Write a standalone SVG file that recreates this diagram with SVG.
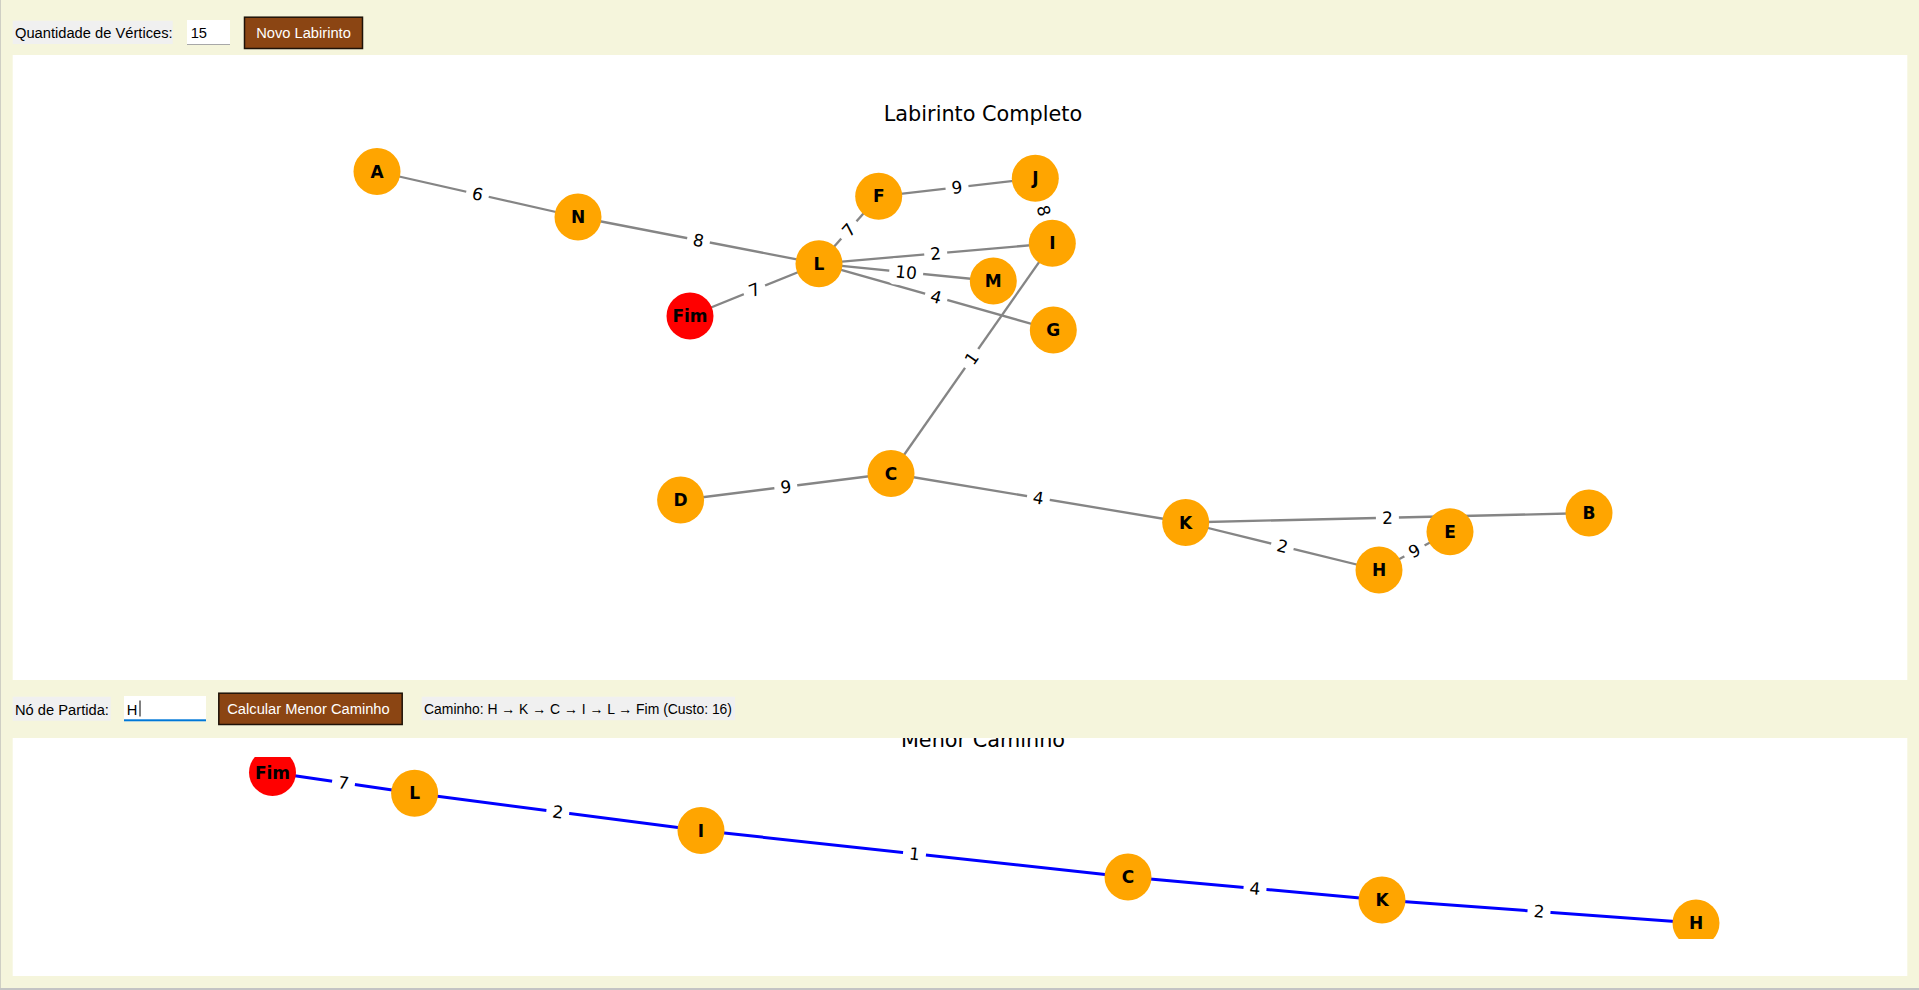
<svg xmlns="http://www.w3.org/2000/svg" width="1919" height="990" viewBox="0 0 1919 990">
<style>
.ui{font-family:"Liberation Sans",Arial,sans-serif;font-size:14.7px;fill:#000}
.btn{fill:#8b4513;stroke:#1e1208;stroke-width:1.5}
.btnt{font-family:"Liberation Sans",Arial,sans-serif;font-size:14.7px;fill:#fff;text-anchor:middle}
.lbl{fill:#f0f0f0}
.ent{fill:#fff}
.ttl{font-family:"DejaVu Sans",sans-serif;font-size:20.8px;fill:#000;text-anchor:middle}
.e{stroke:#858585;stroke-width:2.3;fill:none}
.p{stroke:#0000ff;stroke-width:3;fill:none}
.nd{fill:#ffa500}
.fim{fill:#ff0000}
.nt{font-family:"DejaVu Sans",sans-serif;font-weight:bold;font-size:17px;fill:#000;text-anchor:middle}
.el{font-family:"DejaVu Sans",sans-serif;font-size:17px;fill:#000;text-anchor:middle}
.eb{fill:#fff}
</style>
<defs>
<clipPath id="panel2"><rect x="12.7" y="738" width="1894.6" height="238"/></clipPath>
<clipPath id="ax2"><rect x="12.7" y="757" width="1894.6" height="182"/></clipPath>
</defs>
<rect x="0" y="0" width="1919" height="990" fill="#f5f5dc"/>
<rect x="0" y="0" width="1" height="990" fill="#cfcfc4"/>
<rect x="0" y="988" width="1919" height="2" fill="#c4c4c4"/>

<!-- toolbar 1 -->
<g id="toolbar1">
<rect class="lbl" x="12.7" y="20.7" width="160" height="23.3"/>
<text class="ui" x="15" y="38.3">Quantidade de Vértices:</text>
<rect class="ent" x="187" y="20" width="43" height="25"/>
<rect x="187" y="44" width="43" height="1" fill="#a8a8a8"/>
<text class="ui" x="190.7" y="38.3">15</text>
<rect class="btn" x="244.5" y="17.2" width="118" height="31.3"/>
<text class="btnt" x="303.5" y="38">Novo Labirinto</text>
</g>

<!-- panel 1 -->
<rect x="12.7" y="55" width="1894.6" height="625" fill="#fff"/>
<text class="ttl" x="983" y="120.5">Labirinto Completo</text>

<g id="connectors1">
<line class="e" x1="377" y1="171.5" x2="578" y2="217"/>
<line class="e" x1="578" y1="217" x2="819" y2="263.7"/>
<line class="e" x1="819" y1="263.7" x2="878.7" y2="196.3"/>
<line class="e" x1="878.7" y1="196.3" x2="1035.3" y2="178.3"/>
<line class="e" x1="1035.3" y1="178.3" x2="1052.3" y2="243.3"/>
<line class="e" x1="819" y1="263.7" x2="1052.3" y2="243.3"/>
<line class="e" x1="819" y1="263.7" x2="993.3" y2="281"/>
<line class="e" x1="819" y1="263.7" x2="1053.3" y2="330"/>
<line class="e" x1="819" y1="263.7" x2="690" y2="316"/>
<line class="e" x1="1052.3" y1="243.3" x2="891" y2="473.5"/>
<line class="e" x1="891" y1="473.5" x2="680.6" y2="500"/>
<line class="e" x1="891" y1="473.5" x2="1185.7" y2="522.5"/>
<line class="e" x1="1185.7" y1="522.5" x2="1589" y2="513"/>
<line class="e" x1="1185.7" y1="522.5" x2="1379" y2="570"/>
<line class="e" x1="1379" y1="570" x2="1450" y2="531.7"/>
<g id="edge-labels1">
<g transform="translate(477.5,194.2) rotate(12.9)"><rect class="eb" x="-11.5" y="-13" width="23" height="26" rx="5"/><text class="el" y="6">6</text></g>
<g transform="translate(698.5,240.4) rotate(11)"><rect class="eb" x="-11.5" y="-13" width="23" height="26" rx="5"/><text class="el" y="6">8</text></g>
<g transform="translate(848.9,230) rotate(-48.5)"><rect class="eb" x="-11.5" y="-13" width="23" height="26" rx="5"/><text class="el" y="6">7</text></g>
<g transform="translate(957,187.3) rotate(-6.6)"><rect class="eb" x="-11.5" y="-13" width="23" height="26" rx="5"/><text class="el" y="6">9</text></g>
<g transform="translate(1043.8,210.8) rotate(75.3)"><rect class="eb" x="-11.5" y="-13" width="23" height="26" rx="5"/><text class="el" y="6">8</text></g>
<g transform="translate(935.7,253.5) rotate(-5)"><rect class="eb" x="-11.5" y="-13" width="23" height="26" rx="5"/><text class="el" y="6">2</text></g>
<g transform="translate(906.2,272.4) rotate(5.7)"><rect class="eb" x="-17" y="-13" width="34" height="26" rx="5"/><text class="el" y="6">10</text></g>
<g transform="translate(936.2,296.9) rotate(15.8)"><rect class="eb" x="-11.5" y="-13" width="23" height="26" rx="5"/><text class="el" y="6">4</text></g>
<g transform="translate(754.5,289.9) rotate(-22.1)"><rect class="eb" x="-11.5" y="-13" width="23" height="26" rx="5"/><text class="el" y="6">7</text></g>
<g transform="translate(971.7,358.4) rotate(-55)"><rect class="eb" x="-11.5" y="-13" width="23" height="26" rx="5"/><text class="el" y="6">1</text></g>
<g transform="translate(785.8,486.8) rotate(-7.2)"><rect class="eb" x="-11.5" y="-13" width="23" height="26" rx="5"/><text class="el" y="6">9</text></g>
<g transform="translate(1038.4,498) rotate(9.4)"><rect class="eb" x="-11.5" y="-13" width="23" height="26" rx="5"/><text class="el" y="6">4</text></g>
<g transform="translate(1387.4,517.8) rotate(-1.35)"><rect class="eb" x="-11.5" y="-13" width="23" height="26" rx="5"/><text class="el" y="6">2</text></g>
<g transform="translate(1282.4,546.3) rotate(13.8)"><rect class="eb" x="-11.5" y="-13" width="23" height="26" rx="5"/><text class="el" y="6">2</text></g>
<g transform="translate(1414.5,550.9) rotate(-28.3)"><rect class="eb" x="-11.5" y="-13" width="23" height="26" rx="5"/><text class="el" y="6">9</text></g>
</g>
</g>

<g id="nodes1">
<g id="n1-A"><circle class="nd" cx="377" cy="171.5" r="23.5"/><text class="nt" x="377" y="177.5">A</text></g>
<g id="n1-N"><circle class="nd" cx="578" cy="217" r="23.5"/><text class="nt" x="578" y="223">N</text></g>
<g id="n1-F"><circle class="nd" cx="878.7" cy="196.3" r="23.5"/><text class="nt" x="878.7" y="202.3">F</text></g>
<g id="n1-J"><circle class="nd" cx="1035.3" cy="178.3" r="23.5"/><text class="nt" x="1035.3" y="184.3">J</text></g>
<g id="n1-I"><circle class="nd" cx="1052.3" cy="243.3" r="23.5"/><text class="nt" x="1052.3" y="249.3">I</text></g>
<g id="n1-L"><circle class="nd" cx="819" cy="263.7" r="23.5"/><text class="nt" x="819" y="269.7">L</text></g>
<g id="n1-M"><circle class="nd" cx="993.3" cy="281" r="23.5"/><text class="nt" x="993.3" y="287">M</text></g>
<g id="n1-Fim"><circle class="fim" cx="690" cy="316" r="23.5"/><text class="nt" x="690" y="322">Fim</text></g>
<g id="n1-G"><circle class="nd" cx="1053.3" cy="330" r="23.5"/><text class="nt" x="1053.3" y="336">G</text></g>
<g id="n1-C"><circle class="nd" cx="891" cy="473.5" r="23.5"/><text class="nt" x="891" y="479.5">C</text></g>
<g id="n1-D"><circle class="nd" cx="680.6" cy="500" r="23.5"/><text class="nt" x="680.6" y="506">D</text></g>
<g id="n1-K"><circle class="nd" cx="1185.7" cy="522.5" r="23.5"/><text class="nt" x="1185.7" y="528.5">K</text></g>
<g id="n1-E"><circle class="nd" cx="1450" cy="531.7" r="23.5"/><text class="nt" x="1450" y="537.7">E</text></g>
<g id="n1-B"><circle class="nd" cx="1589" cy="513" r="23.5"/><text class="nt" x="1589" y="519">B</text></g>
<g id="n1-H"><circle class="nd" cx="1379" cy="570" r="23.5"/><text class="nt" x="1379" y="576">H</text></g>
</g>

<!-- toolbar 2 -->
<g id="toolbar2">
<rect class="lbl" x="12.7" y="696.7" width="98" height="24"/>
<text class="ui" x="15" y="714.8">Nó de Partida:</text>
<rect class="ent" x="124" y="696" width="82" height="25.3"/>
<rect x="124" y="719.3" width="82" height="2" fill="#0078d7"/>
<text class="ui" x="126.7" y="714.8">H</text>
<rect x="139.5" y="700.5" width="1" height="16" fill="#000"/>
<rect class="btn" x="218.8" y="693.2" width="183.4" height="31.3"/>
<text class="btnt" x="308.5" y="714.4">Calcular Menor Caminho</text>
<rect class="lbl" x="421.7" y="696.7" width="313.3" height="23.5"/>
<text class="ui" x="424" y="714.4" textLength="308" lengthAdjust="spacingAndGlyphs">Caminho: H → K → C → I → L → Fim (Custo: 16)</text>
</g>

<!-- panel 2 -->
<rect x="12.7" y="738" width="1894.6" height="238" fill="#fff"/>
<g clip-path="url(#panel2)"><text class="ttl" x="983" y="746.5">Menor Caminho</text></g>

<g clip-path="url(#ax2)">
<g id="connectors2">
<polyline class="p" points="272.5,772.5 414.6,793.3 701,830.5 1128,877 1382,900 1696,923"/>
<g id="edge-labels2">
<g transform="translate(343.5,782.9) rotate(8.5)"><rect class="eb" x="-11.5" y="-13" width="23" height="26" rx="5"/><text class="el" y="6">7</text></g>
<g transform="translate(557.8,811.9) rotate(7.4)"><rect class="eb" x="-11.5" y="-13" width="23" height="26" rx="5"/><text class="el" y="6">2</text></g>
<g transform="translate(914.5,853.8) rotate(6.2)"><rect class="eb" x="-11.5" y="-13" width="23" height="26" rx="5"/><text class="el" y="6">1</text></g>
<g transform="translate(1255,888.5) rotate(5.2)"><rect class="eb" x="-11.5" y="-13" width="23" height="26" rx="5"/><text class="el" y="6">4</text></g>
<g transform="translate(1539,911.5) rotate(4.2)"><rect class="eb" x="-11.5" y="-13" width="23" height="26" rx="5"/><text class="el" y="6">2</text></g>
</g>
</g>
<g id="nodes2">
<g id="n2-Fim"><circle class="fim" cx="272.5" cy="772.5" r="23.5"/><text class="nt" x="272.5" y="778.5">Fim</text></g>
<g id="n2-L"><circle class="nd" cx="414.6" cy="793.3" r="23.5"/><text class="nt" x="414.6" y="799.3">L</text></g>
<g id="n2-I"><circle class="nd" cx="701" cy="830.5" r="23.5"/><text class="nt" x="701" y="836.5">I</text></g>
<g id="n2-C"><circle class="nd" cx="1128" cy="877" r="23.5"/><text class="nt" x="1128" y="883">C</text></g>
<g id="n2-K"><circle class="nd" cx="1382" cy="900" r="23.5"/><text class="nt" x="1382" y="906">K</text></g>
<g id="n2-H"><circle class="nd" cx="1696" cy="923" r="23.5"/><text class="nt" x="1696" y="929">H</text></g>
</g>
</g>
</svg>
